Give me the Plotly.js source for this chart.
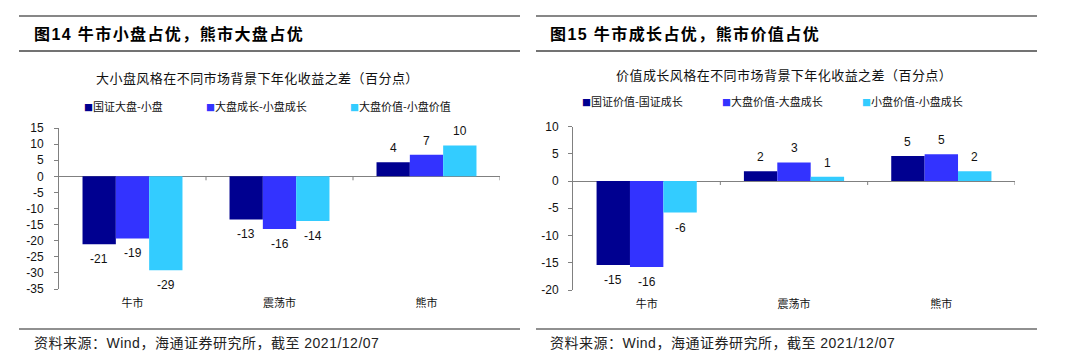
<!DOCTYPE html>
<html>
<head>
<meta charset="utf-8">
<script src="https://cdn.plot.ly/plotly-3.0.1.min.js"></script>
<style>
html,body{margin:0;padding:0;background:#fff;}
#chart{width:1080px;height:362px;}
</style>
</head>
<body>
<div id="chart"></div>
<script>
// ---------- data ----------
const categories = ['牛市', '震荡市', '熊市'];

const leftTitle = '图14 牛市小盘占优，熊市大盘占优';
const leftSubtitle = '大小盘风格在不同市场背景下年化收益之差（百分点）';
const leftNames = ['国证大盘-小盘', '大盘成长-小盘成长', '大盘价值-小盘价值'];
const leftSeries1 = [-21.1, -13.4, 4.4];
const leftSeries2 = [-19.3, -16.4, 6.7];
const leftSeries3 = [-29.2, -13.9, 9.6];
const leftTicks = [15, 10, 5, 0, -5, -10, -15, -20, -25, -30, -35];

const rightTitle = '图15 牛市成长占优，熊市价值占优';
const rightSubtitle = '价值成长风格在不同市场背景下年化收益之差（百分点）';
const rightNames = ['国证价值-国证成长', '大盘价值-大盘成长', '小盘价值-小盘成长'];
const rightSeries1 = [-15.4, 1.8, 4.6];
const rightSeries2 = [-15.8, 3.4, 4.9];
const rightSeries3 = [-5.8, 0.8, 1.8];
const rightTicks = [10, 5, 0, -5, -10, -15, -20];

const sourceText = '资料来源：Wind，海通证券研究所，截至 2021/12/07';

// ---------- style ----------
const colors = ['#000090', '#3333FF', '#33CCFF'];
const W = 1080, H = 362;
const CJK = '"Noto Sans CJK SC", "Liberation Sans", sans-serif';
const NUM = '"Liberation Sans", Arial, "Noto Sans CJK SC", sans-serif';
const BARGAP = 0.32;
const px = v => v / W;
const py = v => 1 - v / H;

const leftData = [leftSeries1, leftSeries2, leftSeries3];
const rightData = [rightSeries1, rightSeries2, rightSeries3];

const traces = [];
leftData.forEach((vals, i) => traces.push({
  type: 'bar', x: categories, y: vals, name: leftNames[i],
  marker: {color: colors[i], line: {width: 0}},
  xaxis: 'x', yaxis: 'y', showlegend: false, hoverinfo: 'skip'
}));
rightData.forEach((vals, i) => traces.push({
  type: 'bar', x: categories, y: vals, name: rightNames[i],
  marker: {color: colors[i], line: {width: 0}},
  xaxis: 'x2', yaxis: 'y2', showlegend: false, hoverinfo: 'skip'
}));

const annotations = [];
const shapes = [];

// value labels (positioned through the axes)
function addLabels(data, xref, yref) {
  const bw = (1 - BARGAP) / data.length;
  data.forEach((vals, i) => {
    vals.forEach((v, j) => {
      annotations.push({
        xref: xref, yref: yref,
        x: j + (i - (data.length - 1) / 2) * bw, y: v,
        yshift: v < 0 ? -15 : 14,
        text: String(Math.round(v)), showarrow: false,
        xanchor: 'center', yanchor: 'middle',
        font: {family: NUM, size: 12, color: '#111'}
      });
    });
  });
}
addLabels(leftData, 'x', 'y');
addLabels(rightData, 'x2', 'y2');

function spaced(t, s) { return '<span style="letter-spacing:' + s + 'px">' + t + '</span>'; }

// panel headers/footers
function panel(x0, x1, title, titleX, subtitle, subX, subY, names, legX, legY) {
  shapes.push({type: 'line', xref: 'paper', yref: 'paper', x0: px(x0), x1: px(x1), y0: py(16), y1: py(16), line: {color: '#111', width: 1.2}});
  shapes.push({type: 'line', xref: 'paper', yref: 'paper', x0: px(x0), x1: px(x1), y0: py(51), y1: py(51), line: {color: '#444', width: 1.6}});
  shapes.push({type: 'line', xref: 'paper', yref: 'paper', x0: px(x0), x1: px(x1), y0: py(329), y1: py(329), line: {color: '#222', width: 1.2}});
  annotations.push({xref: 'paper', yref: 'paper', x: px(titleX), y: py(34), xanchor: 'left', yanchor: 'middle',
    text: '<b>' + spaced(title, 1.4) + '</b>', showarrow: false, font: {family: NUM, size: 16, color: '#000'}});
  annotations.push({xref: 'paper', yref: 'paper', x: px(subX), y: py(subY), xanchor: 'center', yanchor: 'middle',
    text: spaced(subtitle, 0.45), showarrow: false, font: {family: CJK, size: 13, color: '#111'}});
  names.forEach((n, i) => annotations.push({xref: 'paper', yref: 'paper', x: px(legX[i]), y: py(legY), xanchor: 'left', yanchor: 'middle',
    text: '<span style="color:' + colors[i] + ';font-size:9px">■</span>' + n, showarrow: false,
    font: {family: CJK, size: 11, color: '#111'}}));
  annotations.push({xref: 'paper', yref: 'paper', x: px(titleX), y: py(343), xanchor: 'left', yanchor: 'middle',
    text: spaced(sourceText, 0.5), showarrow: false, font: {family: NUM, size: 14, color: '#222'}});
}
panel(19, 520, leftTitle, 32, leftSubtitle, 257, 77, leftNames, [82, 204, 348], 106);
panel(536, 1037, rightTitle, 548, rightSubtitle, 784, 75, rightNames, [580, 720, 860], 101);

// category boundary ticks on the zero line
function boundaryTicks(xref, yref) {
  [0.5, 1.5, 2.5].forEach(b => shapes.push({
    type: 'line', xref: xref, yref: yref, x0: b, x1: b,
    ysizemode: 'pixel', yanchor: 0, y0: 0, y1: -4,
    line: {color: '#808080', width: 1}
  }));
}
boundaryTicks('x', 'y');
boundaryTicks('x2', 'y2');

const xCommon = {
  type: 'category', showline: false, ticks: '', showgrid: false, zeroline: false,
  tickfont: {family: CJK, size: 11, color: '#111'}, ticklabelstandoff: 6, fixedrange: true
};
const yCommon = {
  showline: true, linecolor: '#808080', linewidth: 1, ticks: 'outside', ticklen: 4,
  tickcolor: '#808080', showgrid: false, zeroline: true, zerolinecolor: '#808080', zerolinewidth: 1,
  tickfont: {family: NUM, size: 12, color: '#111'}, tickmode: 'array', fixedrange: true
};

const layout = {
  width: W, height: H,
  margin: {l: 0, r: 0, t: 0, b: 0},
  paper_bgcolor: '#fff', plot_bgcolor: '#fff',
  barmode: 'group', bargap: BARGAP, bargroupgap: 0,
  showlegend: false,
  xaxis: Object.assign({}, xCommon, {domain: [px(59), px(500)], anchor: 'y', range: [-0.5, 2.5]}),
  yaxis: Object.assign({}, yCommon, {domain: [py(289), py(128)], anchor: 'x', range: [-35, 15],
    tickvals: leftTicks, ticktext: leftTicks.map(String), ticklabelstandoff: 8}),
  xaxis2: Object.assign({}, xCommon, {domain: [px(573), px(1015)], anchor: 'y2', range: [-0.5, 2.5]}),
  yaxis2: Object.assign({}, yCommon, {domain: [py(290), py(126.5)], anchor: 'x2', range: [-20, 10],
    tickvals: rightTicks, ticktext: rightTicks.map(String), ticklabelstandoff: 7}),
  annotations: annotations,
  shapes: shapes
};

Plotly.newPlot('chart', traces, layout, {staticPlot: true, displayModeBar: false});
</script>
</body>
</html>
